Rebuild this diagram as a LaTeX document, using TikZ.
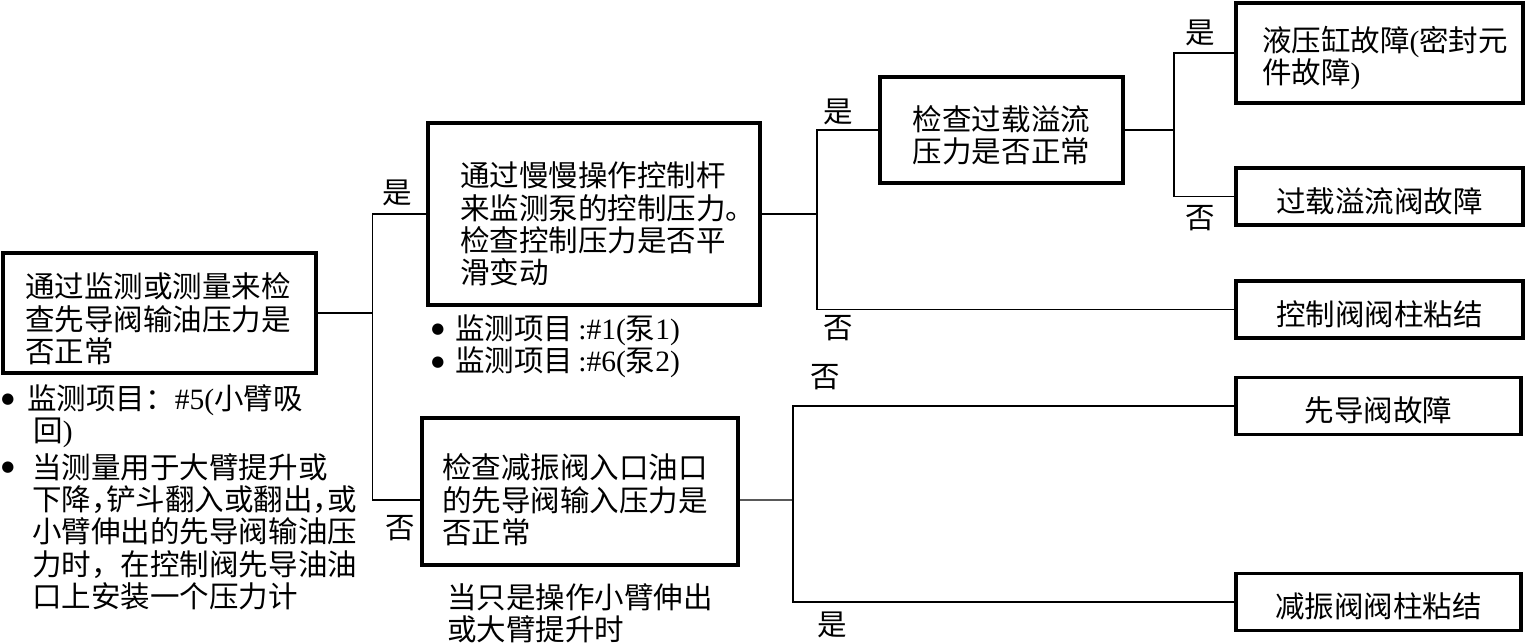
\documentclass[tikz,border=0pt]{standalone}
\usepackage{fontspec}
\setmainfont{Liberation Serif}
\newfontfamily\cjk{Noto Sans CJK SC}
\newfontfamily\symf{DejaVu Sans}
\newcommand\en[1]{{\rmfamily #1}}
\newcommand\hc{\makebox[0.5em][l]{，}}
\newcommand\topgap[1]{\rule{0pt}{#1}}
\newcommand\dotmark{{\symf\fontsize{8.5}{8.5}\selectfont ●}}

\tikzset{
  box/.style={draw, line width=2pt, inner sep=0pt, font=\cjk\fontsize{16.8}{18.4}\selectfont},
  txt/.style={inner sep=0pt, align=left, font=\cjk\fontsize{16.8}{18.4}\selectfont},
  yn/.style={inner sep=0pt, font=\cjk\fontsize{16.8}{18.4}\selectfont},
  wire/.style={line width=0.7pt},
}

\begin{document}
\begin{tikzpicture}[x=0.02cm, y=-0.02cm]
\useasboundingbox (0,0) rectangle (1525,643);

% Boxes
\node[box, minimum width=6.26cm, minimum height=2.4cm, text width=5.38cm, align=left] (chk) at (159.5,313) {\topgap{0.74cm}通过监测或测量来检\\查先导阀输油压力是\\否正常};
\node[box, minimum width=6.64cm, minimum height=3.64cm, text width=5.36cm, align=left] (ctl) at (594,214) {\topgap{0.9cm}通过慢慢操作控制杆\\来监测泵的控制压力。\\检查控制压力是否平\\滑变动};
\node[box, minimum width=6.32cm, minimum height=2.94cm, text width=5.52cm, align=left] (dmp) at (580,491.5) {\topgap{0.84cm}检查减振阀入口油口\\的先导阀输入压力是\\否正常};
\node[box, minimum width=4.86cm, minimum height=2.12cm, align=center] (ovl) at (1001.5,130) {\topgap{0.7cm}检查过载溢流\\压力是否正常};
\node[box, minimum width=5.74cm, minimum height=2cm, text width=4.7cm, align=left] (cyl) at (1379.5,53) {\topgap{0.7cm}液压缸故障\en{(}密封元\\件故障\en{)}};
\node[box, minimum width=5.74cm, minimum height=1.14cm] (rlf) at (1379.5,196.5) {\topgap{0.68cm}过载溢流阀故障};
\node[box, minimum width=5.74cm, minimum height=1.14cm] (spl) at (1379.5,309.5) {\topgap{0.68cm}控制阀阀柱粘结};
\node[box, minimum width=5.7cm, minimum height=1.14cm] (plt) at (1378.5,406) {\topgap{0.68cm}先导阀故障};
\node[box, minimum width=5.7cm, minimum height=1.14cm] (dsp) at (1378.5,602) {\topgap{0.68cm}减振阀阀柱粘结};

% Junctions
\coordinate (j0) at (372.7,313);
\coordinate (j1) at (817,214);
\coordinate (j2) at (1174,130);
\coordinate (j3) at (793,500);

% Connectors
\draw[wire] (chk.east) -- (j0);
\draw[wire] (ctl.west) -| (j0) |- ([yshift=-0.17cm]dmp.west);
\draw[wire] (ctl.east) -- (j1);
\draw[wire] (ovl.west) -| (j1) |- (spl.west);
\draw[wire] (ovl.east) -- (j2);
\draw[wire] (cyl.west) -| (j2) |- (rlf.west);
\draw[wire] ([yshift=-0.17cm]dmp.east) -- (j3);
\draw[wire] (plt.west) -| (j3) |- (dsp.west);

% Yes / no labels
\node[yn] (y0) at (397,193) {是};
\node[yn] (n0) at (400,528) {否};
\node[yn] (y1) at (838,112) {是};
\node[yn] (n1) at (838,328) {否};
\node[yn] (y2) at (1200,33) {是};
\node[yn] (n2) at (1200,218) {否};
\node[yn] (n3) at (825,377) {否};
\node[yn] (y3) at (832,625) {是};

% Notes
\node[yn] (ba1) at (8,400) {\dotmark};
\node[yn] (ba2) at (8,468) {\dotmark};
\node[txt, anchor=west] (na1) at (27,416) {监测项目：\en{\#5(}小臂吸\\\hspace*{0.2em}回\en{)}};
\node[txt, anchor=west] (na2) at (32,531.5) {当测量用于大臂提升或\\下降\hc 铲斗翻入或翻出\hc 或\\小臂伸出的先导阀输油压\\力时，在控制阀先导油油\\口上安装一个压力计};
\node[yn] (bb1) at (438,330) {\dotmark};
\node[yn] (bb2) at (438,363) {\dotmark};
\node[txt, anchor=west] (nb) at (455,346.5) {监测项目\en{\,:\#1(}泵\en{1)}\\监测项目\en{\,:\#6(}泵\en{2)}};
\node[txt, anchor=west] (nc) at (447,613.5) {当只是操作小臂伸出\\或大臂提升时};
\end{tikzpicture}
\end{document}
